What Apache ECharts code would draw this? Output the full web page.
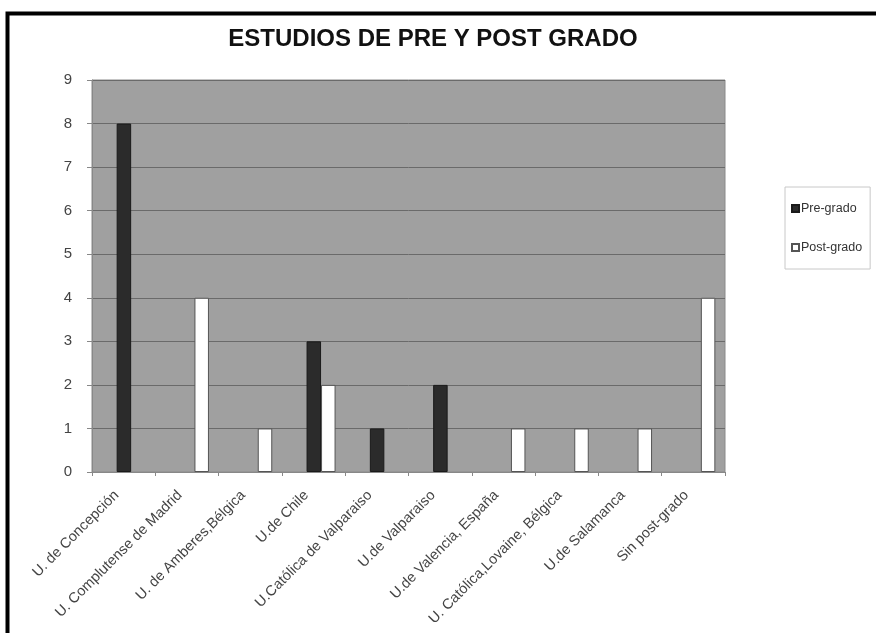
<!DOCTYPE html>
<html>
<head>
<meta charset="utf-8">
<script src="https://cdn.jsdelivr.net/npm/echarts@6/dist/echarts.min.js"></script>
<style>
html,body{margin:0;padding:0;background:#fff;}
#c{width:876px;height:633px;}
</style>
</head>
<body>
<div id="c"></div>
<script>
const titleText = 'ESTUDIOS DE PRE Y POST GRADO';
const categories = ['U. de Concepción','U. Complutense de Madrid','U. de Amberes,Bélgica','U.de Chile','U.Católica de Valparaiso','U.de Valparaiso','U.de Valencia, España','U. Católica,Lovaine, Bélgica','U.de Salamanca','Sin post-grado'];
const seriesNames = ['Pre-grado','Post-grado'];
const preGrado = [8, null, null, 3, 1, 2, null, null, null, null];
const postGrado = [null, 4, 1, 2, null, null, 1, 1, 1, 4];
const yMin = 0, yMax = 9, yInterval = 1;

const FONT = '"Liberation Sans", Arial, sans-serif';
const chart = echarts.init(document.getElementById('c'), null, {renderer:'canvas'});
const gridBase = {top: 80, height: 392, width: 633};
chart.setOption({
  animation: false,
  backgroundColor: '#fff',
  textStyle: {fontFamily: FONT},
  graphic: [{
    type: 'rect', left: 5, top: 11, silent: true, z: 100,
    shape: {width: 900, height: 700},
    style: {fill: 'none', stroke: '#000', lineWidth: 4}
  }],
  title: {
    text: titleText, left: 428, top: 22, textAlign: 'center',
    textStyle: {fontFamily: FONT, fontSize: 24, fontWeight: 'bold', color: '#111'}
  },
  legend: {
    data: seriesNames, orient: 'vertical', left: 785, top: 187,
    padding: [15, 8, 15, 6], itemGap: 26, itemWidth: 7, itemHeight: 7,
    borderColor: '#c8c8c8', borderWidth: 1, icon: 'rect',
    textStyle: {fontFamily: FONT, fontSize: 12.5, color: '#333', padding: [0,0,0,-3]}
  },
  grid: [
    Object.assign({left: 92, backgroundColor: '#a0a0a0', show: true, borderColor: '#8a8a8a', borderWidth: 1}, gridBase),
    Object.assign({left: 99.5}, gridBase)
  ],
  xAxis: [{
    type: 'category', data: categories, gridIndex: 0,
    axisLine: {lineStyle: {color: '#888'}},
    axisTick: {show: true, length: 4, lineStyle: {color: '#888'}},
    axisLabel: {rotate: 45, fontSize: 14.5, color: '#444', margin: 14, padding: [0, 10, 0, 0], interval: 0, fontFamily: FONT}
  }, {
    type: 'category', data: categories, gridIndex: 1, show: false
  }],
  yAxis: [{
    type: 'value', min: yMin, max: yMax, interval: yInterval, gridIndex: 0,
    axisLine: {show: true, lineStyle: {color: '#888'}},
    axisTick: {show: true, length: 5, lineStyle: {color: '#888'}},
    axisLabel: {fontSize: 15, color: '#444', margin: 20, fontFamily: FONT},
    splitLine: {show: true, lineStyle: {color: '#6a6a6a', width: 1}}
  }, {
    type: 'value', min: yMin, max: yMax, interval: yInterval, gridIndex: 1, show: false,
    splitLine: {show: false}
  }],
  series: [{
    name: seriesNames[0], type: 'bar', data: preGrado, xAxisIndex: 1, yAxisIndex: 1,
    barWidth: 14.5, barGap: '0%',
    itemStyle: {color: '#2b2b2b', borderColor: '#1a1a1a', borderWidth: 1}
  }, {
    name: seriesNames[1], type: 'bar', data: postGrado, xAxisIndex: 1, yAxisIndex: 1,
    barWidth: 14.5, barGap: '0%',
    itemStyle: {color: '#ffffff', borderColor: '#555', borderWidth: 1}
  }]
});
</script>
</body>
</html>
